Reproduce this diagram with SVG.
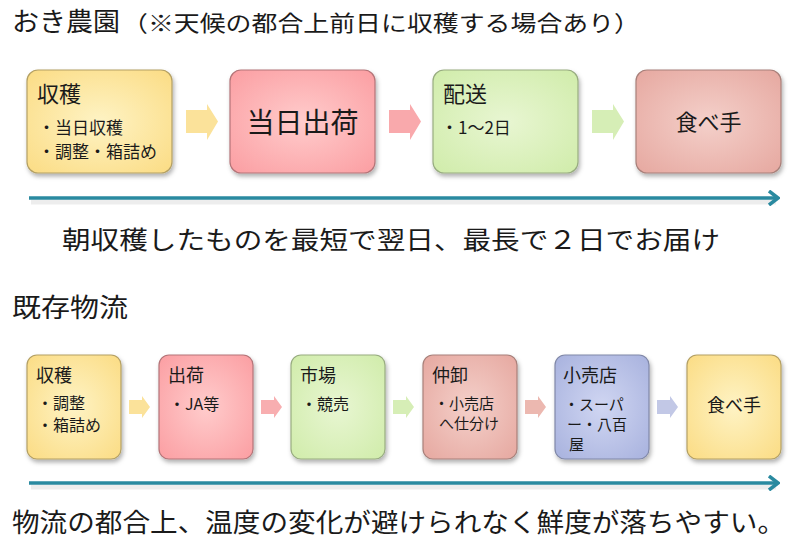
<svg xmlns="http://www.w3.org/2000/svg" width="800" height="543" viewBox="0 0 800 543">
<defs>
<style>
text{font-family:"Noto Sans CJK JP","Noto Sans",sans-serif;fill:#1a1a1a}
.box{stroke-width:1.2;filter:url(#sh)}
.hs{font-size:18px}
.b{font-size:16px}
.bs{font-size:15px}
.tl{stroke:#2a8aa0;stroke-width:3.5;fill:none}
.ts{stroke:#000;stroke-opacity:0.07;stroke-width:5;fill:none}
</style>
<filter id="sh" x="-10%" y="-10%" width="125%" height="130%">
<feDropShadow dx="1.5" dy="3" stdDeviation="2" flood-color="#000" flood-opacity="0.3"/>
</filter>
<radialGradient id="gy" cx="50%" cy="50%" r="70%"><stop offset="0" stop-color="#fef3c4"/><stop offset="1" stop-color="#fbdc84"/></radialGradient>
<radialGradient id="gp" cx="50%" cy="50%" r="70%"><stop offset="0" stop-color="#ffcccc"/><stop offset="1" stop-color="#fb9ea2"/></radialGradient>
<radialGradient id="gg" cx="50%" cy="50%" r="70%"><stop offset="0" stop-color="#e8f6d2"/><stop offset="1" stop-color="#d0ecaa"/></radialGradient>
<radialGradient id="gd" cx="50%" cy="50%" r="70%"><stop offset="0" stop-color="#f4d0ca"/><stop offset="1" stop-color="#e6a8a0"/></radialGradient>
<radialGradient id="gb" cx="50%" cy="50%" r="70%"><stop offset="0" stop-color="#d0d6f2"/><stop offset="1" stop-color="#a8b2de"/></radialGradient>
<marker id="chev" viewBox="0 0 12 16" refX="10" refY="8" markerWidth="12" markerHeight="16" markerUnits="userSpaceOnUse" orient="auto">
<path d="M1,1 L10,8 L1,15" fill="none" stroke="#2a8aa0" stroke-width="3.5"/>
</marker>
</defs>

<g id="titles">
<text x="12" y="31" font-size="26" textLength="108" lengthAdjust="spacingAndGlyphs">おき農園</text>
<text x="122" y="31" font-size="22" textLength="518" lengthAdjust="spacingAndGlyphs">（※天候の都合上前日に収穫する場合あり）</text>
<text x="62" y="249" font-size="25" textLength="658" lengthAdjust="spacingAndGlyphs">朝収穫したものを最短で翌日、最長で２日でお届け</text>
<text x="12" y="317" font-size="26" textLength="116" lengthAdjust="spacingAndGlyphs">既存物流</text>
<text x="12" y="532" font-size="26" textLength="773" lengthAdjust="spacingAndGlyphs">物流の都合上、温度の変化が避けられなく鮮度が落ちやすい。</text>
</g>

<g id="connectors">
<path class="ts" d="M31,202 L776,202"/>
<path class="ts" d="M31,487 L776,487"/>
<path class="tl" d="M29,198 L778,198" marker-end="url(#chev)"/>
<path class="tl" d="M29,483 L778,483" marker-end="url(#chev)"/>
<path d="M186,110 H207 V104 L218,121.5 L207,140 V133 H186 Z" fill="#fbe29a"/>
<path d="M389,110 H410 V104 L421,121.5 L410,140 V133 H389 Z" fill="#f9a9ac"/>
<path d="M592,110 H613 V104 L624,121.5 L613,140 V133 H592 Z" fill="#d6eeb6"/>
<path d="M129,400 H142 V396 L150,407 L142,418 V414 H129 Z" fill="#fbe29a"/>
<path d="M261,400 H274 V396 L282,407 L274,418 V414 H261 Z" fill="#f8aeb0"/>
<path d="M393,400 H406 V396 L414,407 L406,418 V414 H393 Z" fill="#d6eeb6"/>
<path d="M525,400 H538 V396 L546,407 L538,418 V414 H525 Z" fill="#ecb8b0"/>
<path d="M657,400 H670 V396 L678,407 L670,418 V414 H657 Z" fill="#c2c8e6"/>
</g>

<g id="top-harvest">
<rect class="box" x="27" y="70" width="145" height="103" rx="11" fill="url(#gy)" stroke="#b4a064"/>
<text x="37" y="102" font-size="22">収穫</text>
<text x="38" y="134" font-size="17">・当日収穫</text>
<text x="38" y="158" font-size="17">・調整・箱詰め</text>
</g>
<g id="top-ship">
<rect class="box" x="230" y="70" width="145" height="103" rx="11" fill="url(#gp)" stroke="#b47478"/>
<text x="302.5" y="133" font-size="28" text-anchor="middle">当日出荷</text>
</g>
<g id="top-delivery">
<rect class="box" x="433" y="70" width="145" height="103" rx="11" fill="url(#gg)" stroke="#98ac80"/>
<text x="443" y="102" font-size="22">配送</text>
<text x="441" y="134" font-size="17">・1～2日</text>
</g>
<g id="top-eater">
<rect class="box" x="636" y="70" width="145" height="103" rx="11" fill="url(#gd)" stroke="#a8807a"/>
<text x="708.5" y="130" font-size="22" text-anchor="middle">食べ手</text>
</g>

<g id="b-harvest">
<rect class="box" x="27" y="355" width="94" height="104" rx="10" fill="url(#gy)" stroke="#b4a064"/>
<text class="hs" x="36" y="382">収穫</text>
<text class="b" x="37" y="409">・調整</text>
<text class="b" x="37" y="431">・箱詰め</text>
</g>
<g id="b-ship">
<rect class="box" x="159" y="355" width="94" height="104" rx="10" fill="url(#gp)" stroke="#b47478"/>
<text class="hs" x="168" y="382">出荷</text>
<text class="b" x="169" y="410">・JA等</text>
</g>
<g id="b-market">
<rect class="box" x="291" y="355" width="94" height="104" rx="10" fill="url(#gg)" stroke="#98ac80"/>
<text class="hs" x="300" y="382">市場</text>
<text class="b" x="301" y="410">・競売</text>
</g>
<g id="b-wholesale">
<rect class="box" x="423" y="355" width="94" height="104" rx="10" fill="url(#gd)" stroke="#a8807a"/>
<text class="hs" x="432" y="382">仲卸</text>
<text class="bs" x="434" y="409">・小売店</text>
<text class="bs" x="439" y="429">へ仕分け</text>
</g>
<g id="b-retail">
<rect class="box" x="555" y="355" width="94" height="104" rx="10" fill="url(#gb)" stroke="#8088a8"/>
<text class="hs" x="563" y="382">小売店</text>
<text class="bs" x="564" y="410">・スーパ</text>
<text class="bs" x="567" y="430">ー・八百</text>
<text class="bs" x="569" y="450">屋</text>
</g>
<g id="b-eater">
<rect class="box" x="687" y="355" width="94" height="104" rx="10" fill="url(#gy)" stroke="#b4a064"/>
<text x="734" y="412" font-size="18" text-anchor="middle">食べ手</text>
</g>
</svg>
